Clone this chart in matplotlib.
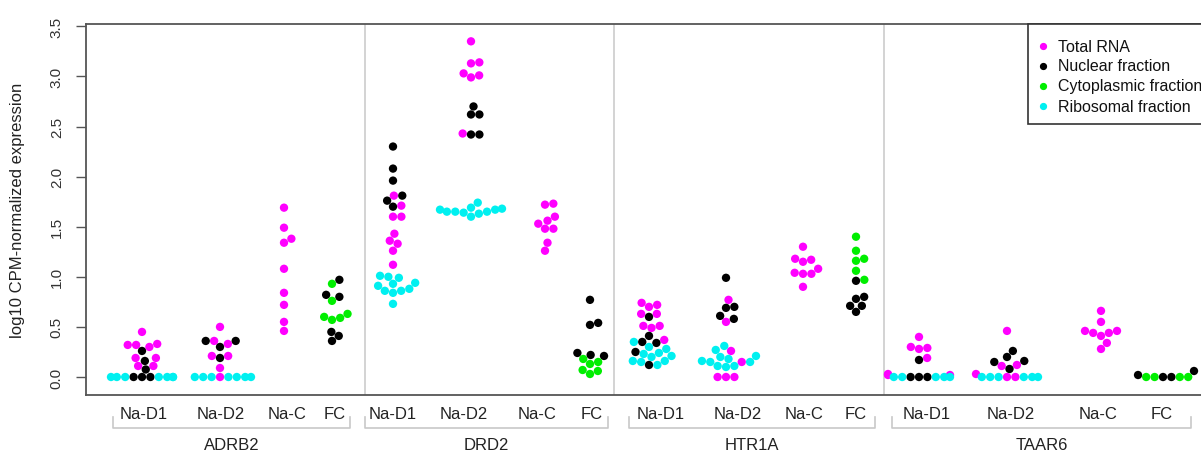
import numpy as np
import matplotlib
matplotlib.use("Agg")
import matplotlib.pyplot as plt
from matplotlib.lines import Line2D
from matplotlib.patches import Rectangle

plt.rcParams['font.family'] = ['Liberation Sans', 'DejaVu Sans']

# ---- data (log10 CPM) ----
genes = ["ADRB2", "DRD2", "HTR1A", "TAAR6"]
groups = ["Na-D1", "Na-D2", "Na-C", "FC"]
fractions = ["Total RNA", "Nuclear fraction", "Cytoplasmic fraction", "Ribosomal fraction"]
frac_keys = ["total", "nuclear", "cyto", "ribo"]

adrb2 = {
    "Na-D1": {"total": [0.45, 0.32, 0.32, 0.30, 0.33, 0.19, 0.19, 0.11, 0.11],
              "nuclear": [0.26, 0.16, 0.075, 0.0, 0.0, 0.0],
              "ribo": [0.0, 0.0, 0.0, 0.0, 0.0, 0.0, 0.0]},
    "Na-D2": {"total": [0.50, 0.33, 0.36, 0.21, 0.21, 0.09, 0.0],
              "nuclear": [0.36, 0.36, 0.30, 0.19],
              "ribo": [0.0, 0.0, 0.0, 0.0, 0.0, 0.0, 0.0]},
    "Na-C": {"total": [1.69, 1.49, 1.38, 1.34, 1.08, 0.84, 0.72, 0.55, 0.46]},
    "FC": {"nuclear": [0.97, 0.82, 0.80, 0.45, 0.41, 0.36],
           "cyto": [0.93, 0.76, 0.60, 0.57, 0.59, 0.63]},
}
drd2 = {
    "Na-D1": {"total": [1.81, 1.71, 1.60, 1.60, 1.43, 1.36, 1.33, 1.26, 1.12],
              "nuclear": [2.30, 2.08, 1.96, 1.81, 1.76, 1.70],
              "ribo": [1.01, 1.00, 0.99, 0.94, 0.93, 0.91, 0.88, 0.86, 0.86, 0.84, 0.73]},
    "Na-D2": {"total": [3.35, 3.14, 3.13, 3.03, 3.01, 2.99, 2.43],
              "nuclear": [2.70, 2.62, 2.62, 2.42, 2.42],
              "ribo": [1.74, 1.69, 1.68, 1.67, 1.67, 1.65, 1.65, 1.65, 1.64, 1.63, 1.60]},
    "Na-C": {"total": [1.73, 1.72, 1.60, 1.56, 1.53, 1.48, 1.48, 1.34, 1.26]},
    "FC": {"nuclear": [0.77, 0.54, 0.52, 0.24, 0.22, 0.21],
           "cyto": [0.18, 0.15, 0.13, 0.07, 0.06, 0.03]},
}
htr1a = {
    "Na-D1": {"total": [0.74, 0.72, 0.70, 0.63, 0.63, 0.51, 0.51, 0.49, 0.37],
              "nuclear": [0.60, 0.41, 0.35, 0.34, 0.25, 0.12],
              "ribo": [0.35, 0.30, 0.28, 0.24, 0.23, 0.21, 0.20, 0.16, 0.16, 0.15, 0.12]},
    "Na-D2": {"total": [0.77, 0.55, 0.26, 0.15, 0.0, 0.0, 0.0],
              "nuclear": [0.99, 0.70, 0.69, 0.61, 0.58],
              "ribo": [0.31, 0.27, 0.21, 0.20, 0.18, 0.16, 0.15, 0.15, 0.11, 0.11, 0.10]},
    "Na-C": {"total": [1.30, 1.18, 1.17, 1.15, 1.08, 1.04, 1.03, 1.03, 0.90]},
    "FC": {"nuclear": [0.96, 0.80, 0.78, 0.71, 0.71, 0.65],
           "cyto": [1.40, 1.26, 1.18, 1.16, 1.06, 0.97]},
}
taar6 = {
    "Na-D1": {"total": [0.40, 0.30, 0.29, 0.28, 0.19, 0.03, 0.02, 0.02],
              "nuclear": [0.17, 0.0, 0.0, 0.0],
              "ribo": [0.0, 0.0, 0.0, 0.0, 0.0]},
    "Na-D2": {"total": [0.46, 0.12, 0.11, 0.03, 0.0, 0.0],
              "nuclear": [0.26, 0.20, 0.16, 0.15, 0.08],
              "ribo": [0.0, 0.0, 0.0, 0.0, 0.0, 0.0]},
    "Na-C": {"total": [0.66, 0.55, 0.46, 0.46, 0.44, 0.44, 0.41, 0.34, 0.28]},
    "FC": {"nuclear": [0.06, 0.02, 0.0, 0.0],
           "cyto": [0.0, 0.0, 0.0, 0.0]},
}
gene_data = [adrb2, drd2, htr1a, taar6]

# ---- layout (x in px units, 1 unit = 1 px) ----
W, H = 1201, 452
colors = {"total": "#ff00ff", "nuclear": "#000000", "cyto": "#00ee00", "ribo": "#00f0f0"}
slot_x = [[142, 220, 284, 332], [393, 471, 545, 590],
          [649, 726, 803, 856], [919, 1007, 1101, 1163]]
label_x = [[144, 221, 287, 335], [393, 464, 537, 592],
           [661, 738, 804, 856], [927, 1011, 1098, 1162]]
sep_x = [365, 614, 884]
brackets = [(113, 350), (365, 608), (629, 875), (892, 1191)]
ax_left, ax_right, ax_top, ax_bot = 86, 1215, 25, 396
y0_px, px_per_unit = 378.0, 100.2
dot_d = 8.4
corral = 31


def swarm(vals, d, width):
    # beeswarm "swarm" + gutter corral: smallest sideways shift without overlap
    ys = np.asarray(vals) * px_per_unit
    order = np.argsort(ys, kind="stable")
    xs = np.zeros(len(ys))
    placed = []
    for i in order:
        y = ys[i]
        cands = [0.0]
        for px, py in placed:
            dy = abs(py - y)
            if dy < d:
                dx = np.sqrt(d * d - dy * dy)
                cands += [px - dx, px + dx]
        for c in sorted(cands, key=lambda c: (abs(c), -c)):
            if all((c - px) ** 2 + (y - py) ** 2 >= d * d - 1e-6 for px, py in placed):
                xs[i] = c
                break
        placed.append((xs[i], y))
    return np.clip(xs, -width, width)


fig = plt.figure(figsize=(W / 100, H / 100), dpi=100)
ax = fig.add_axes([ax_left / W, 1 - ax_bot / H, (ax_right - ax_left) / W, (ax_bot - ax_top) / H])

for gi, gd in enumerate(gene_data):
    for ki, grp in enumerate(groups):
        vals, cols = [], []
        for k in frac_keys:
            v = gd[grp].get(k, [])
            vals += v
            cols += [colors[k]] * len(v)
        off = swarm(vals, dot_d, corral)
        ax.scatter(slot_x[gi][ki] + off, vals, s=36, c=cols, linewidths=0, zorder=3)

for x in sep_x:
    ax.axvline(x, color="#cccccc", lw=1.2, zorder=1)

ax.set_xlim(ax_left, ax_right)
ax.set_ylim((y0_px - ax_bot) / px_per_unit, (y0_px - ax_top) / px_per_unit)

ax.set_xticks([x for row in label_x for x in row])
ax.set_xticklabels(groups * 4, fontsize=12, color="#222222")
ax.tick_params(axis="x", length=0, pad=8)

yt = np.arange(0, 3.51, 0.5)
ax.set_yticks(yt)
ax.set_yticklabels([f"{v:.1f}" for v in yt], rotation=90, va="center", fontsize=11, color="#333333")
ax.tick_params(axis="y", length=7, width=1, color="#555555", pad=9)

for s in ["left", "top", "bottom"]:
    ax.spines[s].set_color("#555555")
    ax.spines[s].set_linewidth(1.3)
ax.spines["right"].set_visible(False)

fig.text(18 / W, 1 - 210 / H, "log10 CPM-normalized expression", rotation=90,
         ha="center", va="center", fontsize=12, color="#222222")

# gene brackets and names below the axis
for (a, b), g in zip(brackets, genes):
    fig.add_artist(Line2D([a / W, a / W, b / W, b / W],
                          [1 - 418 / H, 1 - 429 / H, 1 - 429 / H, 1 - 418 / H],
                          transform=fig.transFigure, color="#c8c8c8", lw=1.2))
    fig.text((a + b) / 2 / W, 1 - 446 / H, g, ha="center", va="center", fontsize=12, color="#222222")

# legend box, top right (runs off the edge like the original)
fig.add_artist(Rectangle((1028 / W, 1 - 125 / H), 200 / W, 100 / H, transform=fig.transFigure,
                         facecolor="white", edgecolor="#333333", lw=1.2, zorder=5))
for i, (lab, k) in enumerate(zip(fractions, frac_keys)):
    yy = 1 - (47 + 20 * i) / H
    fig.add_artist(Line2D([1043 / W], [yy], marker="o", markersize=4.2, color=colors[k],
                          linestyle="none", transform=fig.transFigure, zorder=6))
    fig.text(1058 / W, yy, lab, ha="left", va="center", fontsize=11.5, color="#111111", zorder=6)

fig.savefig("out.png", dpi=100)
